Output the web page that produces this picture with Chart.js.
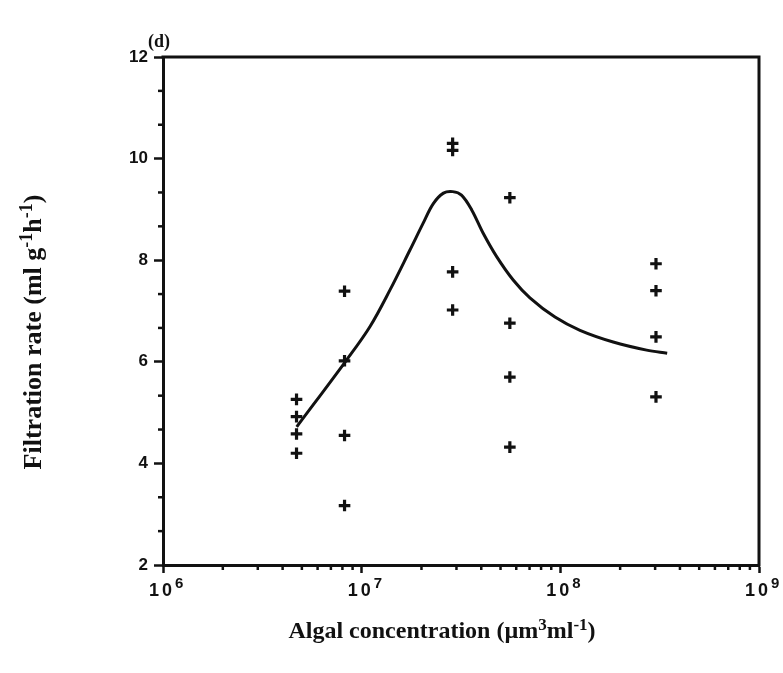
<!DOCTYPE html>
<html>
<head>
<meta charset="utf-8">
<script src="https://cdn.jsdelivr.net/npm/chart.js@4"></script>
<style>
  html, body { margin: 0; padding: 0; background: #fff; }
  #wrap { width: 783px; height: 673px; }
</style>
</head>
<body>
<div id="wrap"><canvas id="c" width="783" height="673"></canvas></div>
<script>
// Algal concentration of each feeding run (µm³ ml⁻¹)
const algalConc = [4.7e6, 8.2e6, 2.87e7, 5.57e7, 3.03e8];
// Filtration rates measured at each concentration (ml g⁻¹ h⁻¹)
const ratesAt1 = [5.26, 4.92, 4.58, 4.20];
const ratesAt2 = [7.39, 6.02, 4.55, 3.17];
const ratesAt3 = [10.30, 10.16, 7.77, 7.02];
const ratesAt4 = [9.23, 6.76, 5.70, 4.32];
const ratesAt5 = [7.93, 7.40, 6.49, 5.31];
const ratesByConc = [ratesAt1, ratesAt2, ratesAt3, ratesAt4, ratesAt5];

// Fitted response curve
const fitConc = [4.71e6, 8.41e6, 1.10e7, 1.387e7, 1.75e7, 2.04e7, 2.29e7, 2.58e7,
                 2.87e7, 3.18e7, 3.58e7, 4.09e7, 4.78e7, 5.79e7, 7.03e7, 9.40e7,
                 1.256e8, 1.845e8, 2.72e8, 3.45e8];
const fitRate = [4.72, 6.04, 6.69, 7.41, 8.20, 8.73, 9.11, 9.32,
                 9.35, 9.28, 8.99, 8.53, 8.07, 7.61, 7.26, 6.88,
                 6.62, 6.39, 6.23, 6.17];

// Axis ticks
const yMajorTicks = [2, 4, 6, 8, 10, 12];
const xDecades = [1e6, 1e7, 1e8, 1e9];
const xExponents = ['6', '7', '8', '9'];

const INK = '#111';
const SERIF = '"Liberation Serif", "Times New Roman", serif';
const SANS = '"Liberation Sans", Arial, sans-serif';
const points = [];
algalConc.forEach((c, i) => ratesByConc[i].forEach(r => points.push({ x: c, y: r })));
const curve = fitConc.map((c, i) => ({ x: c, y: fitRate[i] }));

// draws a run of [text, fontSize, raise] pieces (for superscripts)
function drawRich(ctx, parts, x, y, align) {
  let total = 0;
  parts.forEach(p => { ctx.font = 'bold ' + p[1] + 'px ' + SERIF; total += ctx.measureText(p[0]).width; });
  let cx = align === 'center' ? x - total / 2 : x;
  parts.forEach(p => {
    ctx.font = 'bold ' + p[1] + 'px ' + SERIF;
    ctx.fillText(p[0], cx, y - p[2]);
    cx += ctx.measureText(p[0]).width;
  });
}

const decorations = {
  id: 'decorations',
  afterDraw(chart) {
    const { ctx, chartArea: a, scales } = chart;
    const xs = scales.x, ys = scales.y;
    ctx.save();
    ctx.strokeStyle = INK;
    ctx.fillStyle = INK;
    // top and right edges of the frame
    ctx.lineWidth = 3;
    ctx.beginPath();
    ctx.moveTo(a.left - 1.5, a.top);
    ctx.lineTo(a.right, a.top);
    ctx.lineTo(a.right, a.bottom + 1.5);
    ctx.stroke();
    // minor ticks on the y axis
    ctx.lineWidth = 2.5;
    for (let v = 2; v < 12; v += 2) {
      [v + 2 / 3, v + 4 / 3].forEach(m => {
        const py = ys.getPixelForValue(m);
        ctx.beginPath(); ctx.moveTo(a.left - 5, py); ctx.lineTo(a.left, py); ctx.stroke();
      });
    }
    // minor ticks on the log x axis
    for (let d = 0; d < 3; d++) {
      for (let k = 2; k <= 9; k++) {
        const px = xs.getPixelForValue(k * xDecades[d]);
        ctx.beginPath(); ctx.moveTo(px, a.bottom); ctx.lineTo(px, a.bottom + 5); ctx.stroke();
      }
    }
    // decade labels 10^n
    ctx.textBaseline = 'alphabetic';
    xDecades.forEach((v, i) => {
      const px = xs.getPixelForValue(v);
      ctx.font = 'bold 18px ' + SANS;
      ctx.letterSpacing = '3px';
      const w = ctx.measureText('10').width;
      ctx.fillText('10', px - w / 2 - 1, 596);
      ctx.letterSpacing = '0px';
      ctx.font = 'bold 15px ' + SANS;
      ctx.fillText(xExponents[i], px + w / 2 - 1, 588);
    });
    // panel letter
    ctx.font = 'bold 18px ' + SERIF;
    ctx.fillText('(d)', 148, 47);
    // x axis title
    drawRich(ctx, [['Algal concentration (\u00b5m', 24, 0], ['3', 17, 8], ['ml', 24, 0], ['-1', 17, 8], [')', 24, 0]],
             442, 638, 'center');
    // y axis title
    ctx.save();
    ctx.translate(41, 332);
    ctx.rotate(-Math.PI / 2);
    drawRich(ctx, [['Filtration rate (ml g', 26, 0], ['-1', 18, 9], ['h', 26, 0], ['-1', 18, 9], [')', 26, 0]],
             0, 0, 'center');
    ctx.restore();
    ctx.restore();
  }
};

new Chart(document.getElementById('c'), {
  data: {
    datasets: [
      {
        type: 'scatter',
        label: 'Measured',
        data: points,
        pointStyle: 'cross',
        pointRadius: 5.8,
        pointHoverRadius: 5.8,
        borderColor: INK,
        backgroundColor: INK,
        borderWidth: 3.2
      },
      {
        type: 'line',
        label: 'Fitted',
        data: curve,
        borderColor: INK,
        borderWidth: 3,
        pointRadius: 0,
        fill: false,
        tension: 0.35
      }
    ]
  },
  options: {
    responsive: false,
    animation: false,
    layout: { padding: { top: 57, right: 24, bottom: 0, left: 0 } },
    plugins: { legend: { display: false }, tooltip: { enabled: false } },
    scales: {
      x: {
        type: 'logarithmic',
        min: 1e6,
        max: 1e9,
        afterBuildTicks: s => { s.ticks = xDecades.map(v => ({ value: v })); },
        afterFit: s => { s.height = 108; },
        ticks: { display: false },
        grid: { drawOnChartArea: false, drawTicks: true, tickLength: 8, tickWidth: 2.5, tickColor: INK },
        border: { display: true, width: 3, color: INK }
      },
      y: {
        min: 2,
        max: 12,
        afterBuildTicks: s => { s.ticks = yMajorTicks.map(v => ({ value: v })); },
        afterFit: s => { s.width = 163; },
        ticks: {
          color: INK,
          padding: 6,
          font: { family: SANS, size: 17, weight: 'bold' }
        },
        grid: { drawOnChartArea: false, drawTicks: true, tickLength: 9, tickWidth: 2.5, tickColor: INK },
        border: { display: true, width: 3, color: INK }
      }
    }
  },
  plugins: [decorations]
});
</script>
</body>
</html>
